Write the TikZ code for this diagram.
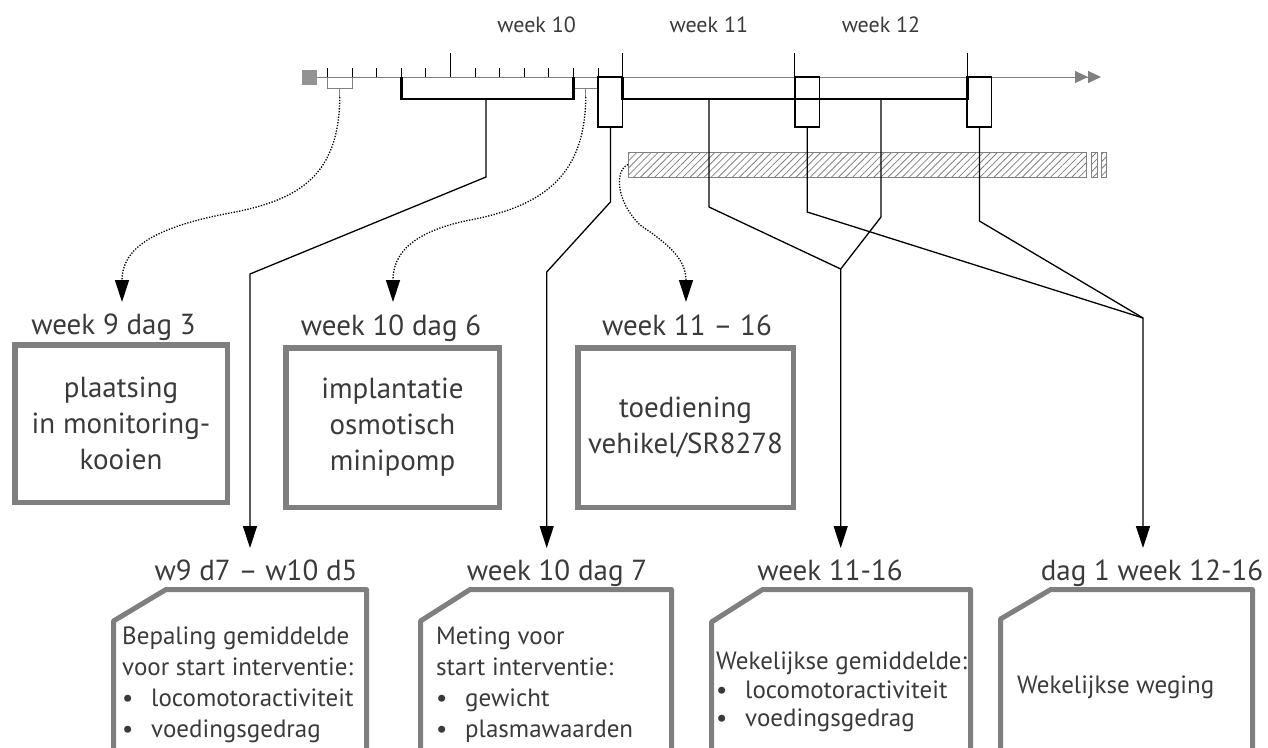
\documentclass[tikz,border=0pt]{standalone}
\usepackage{fontspec}
\setmainfont{PT Sans}
\usetikzlibrary{arrows.meta,patterns.meta}

\definecolor{boxgrey}{HTML}{7F7F7F}
\definecolor{txtgrey}{HTML}{3A3A3A}
\newcommand{\bul}[1]{\makebox[29pt][l]{\textbullet}#1}

\begin{document}
\begin{tikzpicture}[x=1pt, y=-1pt,
    every node/.style={text=txtgrey, inner sep=0pt},
    weeklabel/.style={font=\fontsize{22}{26}\selectfont, anchor=base},
    title/.style={font=\fontsize{29}{34}\selectfont, anchor=base},
    topbox/.style={draw=boxgrey, line width=5.5pt, align=center, font=\fontsize{29}{36}\selectfont},
    frame/.style={draw=boxgrey, line width=5pt, line join=round},
    bodytext/.style={align=left, anchor=north west, font=\fontsize{25}{31}\selectfont},
    tick/.style={line width=1pt},
    bar/.style={line width=2.8pt},
    greybr/.style={draw=gray, line width=1pt},
    wire/.style={line width=1.3pt},
    link/.style={wire, -{Triangle[length=22pt,width=14pt]}},
    dotlink/.style={link, dash pattern=on 1.3pt off 1.5pt},
    hatch/.style={draw=gray, line width=1pt, pattern={Lines[angle=45,distance=5pt,line width=0.8pt]}, pattern color=gray}
]
\useasboundingbox (0,0) rectangle (1268,747);

\fill[gray!85] (302,70) rectangle (317,85);
\draw[gray, line width=1pt, -{Triangle[length=13pt,width=12pt]Triangle[length=13pt,width=12pt]}] (317,77) -- (1101,77);
\foreach \d in {-5,-4,-3,-2,-1,1,2,3,4,5,6}
    \draw[tick] (450.5+24.6*\d,68) -- (450.5+24.6*\d,77);
\foreach \d in {0,7,14,21}
    \draw[tick] (450.5+24.6*\d,53) -- (450.5+24.6*\d,77);
\foreach \w[count=\i] in {10,11,12}
    \node[weeklabel] (wk\w) at (364.4+172.2*\i,32) {week \w};

\draw[greybr] (327.5,77) -- (327.5,88) -- (352.1,88) -- (352.1,77);
\draw[greybr] (339.8,88) -- (339.8,97) coordinate (s1);
\draw[greybr] (573.5,77) -- (573.5,88) -- (598.1,88) -- (598.1,77);
\draw[greybr] (585.8,88) -- (585.8,97) coordinate (s2);
\foreach \a/\b in {401.3/573.5, 622.7/794.9, 794.9/967.1}
    \draw[bar] (\a,77) -- (\a,99) -- (\b,99) -- (\b,77);
\foreach \a in {598.1, 794.9, 967.1}
    \draw[wire] (\a,77) rectangle (\a+24.6,127);

\node[hatch, minimum width=458pt, minimum height=25pt, anchor=west] (drug) at (628,164.5) {};
\draw[hatch] (1091,152) rectangle (1097,177);
\draw[hatch] (1101,152) rectangle (1106,177);

\coordinate (w10c) at (486,99);
\coordinate (d7) at (610.4,127);
\coordinate (w11c) at (709,99);
\coordinate (w12c) at (881,99);
\coordinate (d12) at (807.2,127);
\coordinate (d13) at (979.4,127);
\coordinate (m11) at (840.7,269);
\coordinate (m12) at (1143,318);

\node[title] (tA) at (113.5,334) {week 9 dag 3};
\node[title] (tB) at (391,335) {week 10 dag 6};
\node[title] (tC) at (687,335) {week 11 – 16};
\node[topbox, minimum width=212.5pt, minimum height=157.5pt] (plaats) at (121,423.5) {plaatsing\\in monitoring-\\kooien};
\node[topbox, minimum width=213.5pt, minimum height=159.5pt] (implant) at (392.5,427.5) {implantatie\\osmotisch\\minipomp};
\node[topbox, minimum width=215.5pt, minimum height=159.5pt] (toedien) at (685.5,427.5) {toediening\\vehikel/SR8278};

\coordinate (inA) at (122,302);
\coordinate (inB) at (393,302);
\coordinate (inC) at (686,302);
\draw[dotlink] (s1) .. controls (339,175) and (300,200) .. (230,213) .. controls (150,228) and (122,250) .. (inA);
\draw[dotlink] (s2) .. controls (585,170) and (550,205) .. (470,220) .. controls (410,232) and (393,255) .. (inB);
\draw[dotlink] (drug.west) .. controls (615,170) and (615,200) .. (640,225) .. controls (670,245) and (686,260) .. (inC);

\node[title] (tD) at (256,580) {w9 d7 – w10 d5};
\node[title] (tE) at (557,580) {week 10 dag 7};
\node[title] (tF) at (830,580) {week 11-16};
\node[title] (tG) at (1152,580) {dag 1 week 12-16};

\coordinate (inD) at (250,548);
\coordinate (inE) at (546.7,548);
\coordinate (inF) at (840.7,548);
\coordinate (inG) at (1143,548);
\draw[link] (w10c) -- ++(0,78) -- (250,274) -- (inD);
\draw[link] (d7) -- ++(0,75) -- (546.7,272) -- (inE);
\draw[link] (w11c) -- ++(0,108) -- (m11) -- (inF);
\draw[wire] (w12c) -- ++(0,118) -- (m11);
\draw[link] (d12) -- ++(0,85) -- (m12) -- (inG);
\draw[wire] (d13) -- ++(0,94) -- (m12);

\foreach \l/\r/\c/\h in {113.5/366.5/166/621, 420.5/671.5/470/621, 711.5/970.5/762.6/622, 1000.5/1252.5/1050.7/619}
    \draw[frame] (\l,752) -- (\l,\h) -- (\c,589.5) -- (\r,589.5) -- (\r,752);

\node[bodytext] (bepaling) at (122,627) {Bepaling gemiddelde\\voor start interventie:\\\bul{locomotoractiviteit}\\\bul{voedingsgedrag}};
\node[bodytext] (meting) at (436,627) {Meting voor\\start interventie:\\\bul{gewicht}\\\bul{plasmawaarden}};
\node[bodytext, font=\fontsize{25}{28.5}\selectfont] (wekgem) at (716,652) {Wekelijkse gemiddelde:\\\bul{locomotoractiviteit}\\\bul{voedingsgedrag}};
\node[font=\fontsize{25}{31}\selectfont, anchor=west] (weging) at (1017,687) {Wekelijkse weging};
\end{tikzpicture}
\end{document}
